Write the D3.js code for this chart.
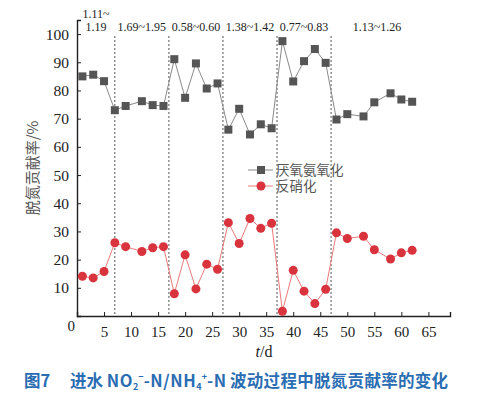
<!DOCTYPE html>
<html>
<head>
<meta charset="utf-8">
<script src="https://cdn.jsdelivr.net/npm/d3@7"></script>
<style>
  body { margin: 0; background: #fff; }
  svg { display: block; }
</style>
</head>
<body>
<div class="content"></div>
<script>
// days of sampling
var days = [1, 3, 5, 7, 9, 12, 14, 16, 18, 20, 22, 24, 26, 28, 30, 32, 34, 36,
  38, 40, 42, 44, 46, 48, 50, 53, 55, 58, 60, 62];
// 厌氧氨氧化 contribution (%)
var anammox = [85.0, 85.6, 83.3, 73.0, 74.5, 76.2, 74.8, 74.5, 91.1, 77.4, 89.6, 80.7, 82.5, 66.1, 73.5, 64.4, 68.0, 66.6,
  97.5, 83.2, 90.4, 94.7, 89.8, 69.7, 71.6, 70.8, 75.8, 79.0, 76.8, 76.0];
// 反硝化 contribution (%)
var denit = [14.1, 13.5, 15.8, 26.0, 24.6, 22.9, 24.2, 24.6, 7.9, 21.7, 9.6, 18.4, 16.6, 33.1, 25.7, 34.6, 31.1, 32.9,
  1.7, 16.2, 8.8, 4.4, 9.5, 29.5, 27.5, 28.3, 23.5, 20.2, 22.4, 23.3];
// phase boundaries (d) and influent NO2--N/NH4+-N ratio ranges
var phaseBreaks = [7, 17, 27, 37, 47];
var phaseStart = [0, 7, 17, 27, 37, 47];
var phaseEnd = [7, 17, 27, 37, 47, 64];
var phaseLabels = ['1.11~1.19', '1.69~1.95', '0.58~0.60', '1.38~1.42', '0.77~0.83', '1.13~1.26'];
var xTicks = [5, 10, 15, 20, 25, 30, 35, 40, 45, 50, 55, 60, 65];
var yTicks = [10, 20, 30, 40, 50, 60, 70, 80, 90, 100];

var W = 478, H = 394;
var svg = d3.select('.content').append('svg')
  .attr('width', W)
  .attr('height', H);

var x = d3.scaleLinear().domain([0, 69]).range([77, 450]);
var y = d3.scaleLinear().domain([0, 105]).range([316, 20]);

var serif = '"Liberation Serif", "Times New Roman", serif';
var cjk = '"Noto Sans CJK SC", sans-serif';

// phase dividers
svg.append('g').selectAll('line')
  .data(phaseBreaks)
  .enter()
  .append('line')
  .attr('x1', function(d) { return x(d); })
  .attr('x2', function(d) { return x(d); })
  .attr('y1', 36)
  .attr('y2', y(0))
  .attr('stroke', '#555')
  .attr('stroke-width', 1)
  .attr('stroke-dasharray', '2,2');

// axes
var axisX = svg.append('g')
  .attr('transform', 'translate(0,' + y(0) + ')')
  .call(d3.axisBottom(x).tickValues(xTicks).tickSize(-4).tickPadding(10));
axisX.select('.domain').attr('stroke', '#222').attr('stroke-width', 1.4);
axisX.selectAll('line').attr('stroke', '#222');
axisX.selectAll('text')
  .style('font-family', serif).style('font-size', '15px').attr('fill', '#222');

var axisY = svg.append('g')
  .attr('transform', 'translate(' + x(0) + ',0)')
  .call(d3.axisLeft(y).tickValues(yTicks).tickSize(-4).tickPadding(8));
axisY.select('.domain').attr('stroke', '#222').attr('stroke-width', 1.4);
axisY.selectAll('line').attr('stroke', '#222');
axisY.selectAll('text')
  .style('font-family', serif).style('font-size', '15.5px').attr('fill', '#222');

// origin label
svg.append('text')
  .attr('x', x(0) - 2).attr('y', 331)
  .attr('text-anchor', 'end')
  .style('font-family', serif).style('font-size', '15px').attr('fill', '#222')
  .text('0');

// phase ratio labels
var labG = svg.append('g')
  .style('font-family', serif).style('font-size', '12px').attr('fill', '#222');
phaseLabels.forEach(function(t, i) {
  var cx = x((phaseStart[i] + phaseEnd[i]) / 2);
  if (i === 0) {
    cx = 96;
    labG.append('text').attr('x', cx).attr('y', 18).attr('text-anchor', 'middle').text(t.split('~')[0] + '~');
    labG.append('text').attr('x', cx).attr('y', 31).attr('text-anchor', 'middle').text(t.split('~')[1]);
  } else {
    labG.append('text').attr('x', cx).attr('y', 31).attr('text-anchor', 'middle').text(t);
  }
});

// series lines
var lineGen = d3.line()
  .x(function(d) { return x(d[0]); })
  .y(function(d) { return y(d[1]); });

var anData = days.map(function(d, i) { return [d, anammox[i]]; });
var deData = days.map(function(d, i) { return [d, denit[i]]; });

svg.append('path')
  .datum(anData)
  .attr('d', lineGen)
  .attr('fill', 'none')
  .attr('stroke', '#8a8a8a')
  .attr('stroke-width', 1);

svg.append('path')
  .datum(deData)
  .attr('d', lineGen)
  .attr('fill', 'none')
  .attr('stroke', '#ea7a7a')
  .attr('stroke-width', 1);

svg.append('g').selectAll('rect')
  .data(anData)
  .enter()
  .append('rect')
  .attr('x', function(d) { return x(d[0]) - 4; })
  .attr('y', function(d) { return y(d[1]) - 4; })
  .attr('width', 8)
  .attr('height', 8)
  .attr('fill', '#555');

svg.append('g').selectAll('circle')
  .data(deData)
  .enter()
  .append('circle')
  .attr('cx', function(d) { return x(d[0]); })
  .attr('cy', function(d) { return y(d[1]); })
  .attr('r', 4.5)
  .attr('fill', '#d9333d');

// legend
var leg = svg.append('g');
leg.append('line').attr('x1', 248).attr('x2', 273).attr('y1', 170).attr('y2', 170)
  .attr('stroke', '#8a8a8a');
leg.append('rect').attr('x', 257).attr('y', 166).attr('width', 8).attr('height', 8).attr('fill', '#555');
leg.append('text').attr('x', 276).attr('y', 175)
  .style('font-family', cjk).style('font-size', '13.5px').attr('fill', '#555').text('厌氧氨氧化');
leg.append('line').attr('x1', 248).attr('x2', 273).attr('y1', 186).attr('y2', 186)
  .attr('stroke', '#ea7a7a');
leg.append('circle').attr('cx', 261).attr('cy', 186).attr('r', 4.5).attr('fill', '#d9333d');
leg.append('text').attr('x', 276).attr('y', 191)
  .style('font-family', cjk).style('font-size', '13.5px').attr('fill', '#555').text('反硝化');

// axis titles
svg.append('text')
  .attr('transform', 'translate(38,168) rotate(-90)')
  .attr('text-anchor', 'middle')
  .style('font-family', cjk).style('font-size', '15px').attr('fill', '#555')
  .text('脱氮贡献率/%');

var xt = svg.append('text')
  .attr('x', 264).attr('y', 357)
  .attr('text-anchor', 'middle')
  .style('font-family', serif).style('font-size', '16px').attr('fill', '#222');
xt.append('tspan').style('font-style', 'italic').text('t');
xt.append('tspan').text('/d');

// caption
var cap = svg.append('text')
  .attr('x', 24).attr('y', 387)
  .style('font-family', cjk).style('font-size', '16.5px').style('font-weight', 'bold')
  .attr('fill', '#2a6db3');
cap.append('tspan').text('图7');
cap.append('tspan').attr('x', 70).text('进水 ');
cap.append('tspan').style('letter-spacing', '0.6px').text('NO');
cap.append('tspan').attr('dy', 3).style('font-size', '9px').text('2');
cap.append('tspan').attr('dy', -10).style('font-size', '9px').text('−');
cap.append('tspan').attr('dy', 7).style('letter-spacing', '0.6px').text('-N/NH');
cap.append('tspan').attr('dy', 3).style('font-size', '9px').text('4');
cap.append('tspan').attr('dy', -10).style('font-size', '9px').text('+');
cap.append('tspan').attr('dy', 7).style('letter-spacing', '0.6px').text('-N');
cap.append('tspan').attr('x', 230).style('letter-spacing', '0.3px').text('波动过程中脱氮贡献率的变化');
</script>
</body>
</html>
